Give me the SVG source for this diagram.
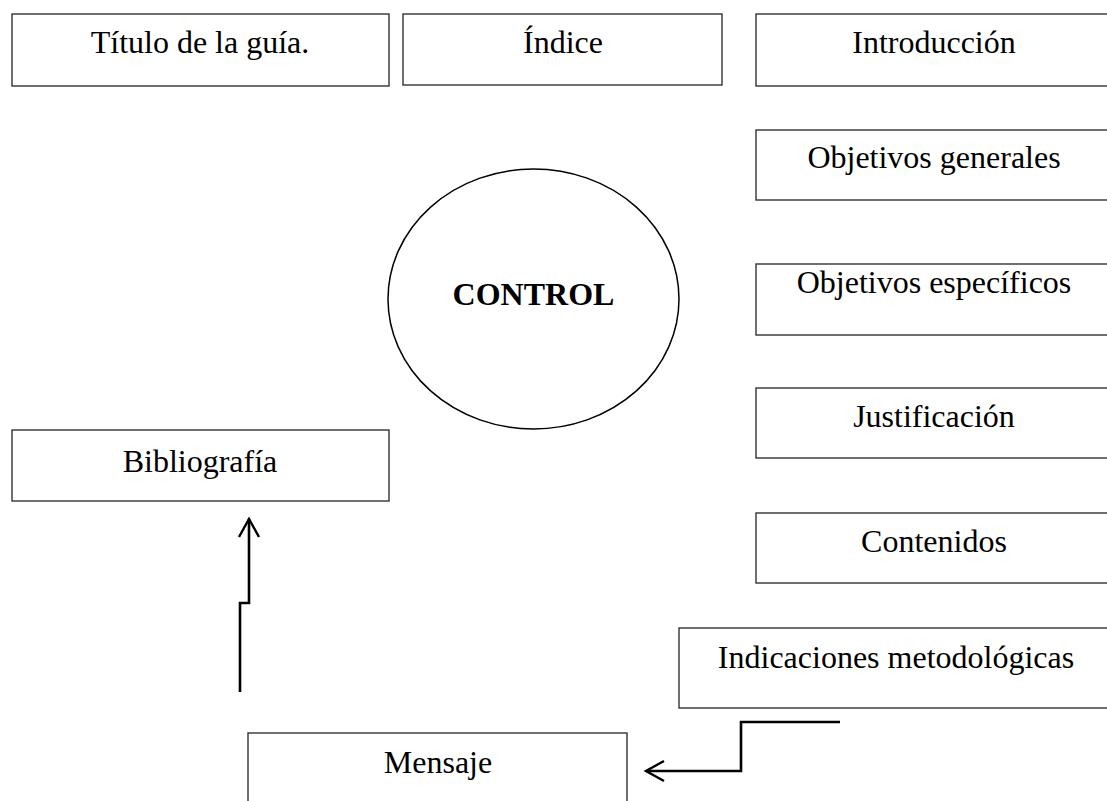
<svg xmlns="http://www.w3.org/2000/svg" width="1107" height="801" viewBox="0 0 1107 801">
<style>
.box{fill:#fff;stroke:#333;stroke-width:1.4}
.t{font-family:"Liberation Serif","Times New Roman",serif;font-size:32px;fill:#000;text-anchor:middle}
.b{font-weight:bold}
.conn{fill:none;stroke:#000;stroke-width:2.6}
</style>
<defs>
<marker id="open" markerUnits="userSpaceOnUse" markerWidth="30" markerHeight="30" refX="20" refY="12" orient="auto" overflow="visible">
<path d="M2,2 L20,12 L2,22" fill="none" stroke="#000" stroke-width="2.4"/>
</marker>
</defs>
<rect width="1107" height="801" fill="#fff"/>
<g id="titulo"><rect class="box" x="12" y="14" width="377" height="72"/><text class="t" x="200" y="53">Título de la guía.</text></g>
<g id="indice"><rect class="box" x="403" y="14" width="319" height="71"/><text class="t" x="563" y="53">Índice</text></g>
<g id="introduccion"><rect class="box" x="756" y="14" width="357" height="72"/><text class="t" x="934" y="53">Introducción</text></g>
<g id="obj-generales"><rect class="box" x="756" y="130" width="357" height="70"/><text class="t" x="934" y="168">Objetivos generales</text></g>
<g id="obj-especificos"><rect class="box" x="756" y="264" width="357" height="71"/><text class="t" x="934" y="293">Objetivos específicos</text></g>
<g id="justificacion"><rect class="box" x="756" y="388" width="357" height="70"/><text class="t" x="934" y="427">Justificación</text></g>
<g id="contenidos"><rect class="box" x="756" y="513" width="357" height="70"/><text class="t" x="934" y="552">Contenidos</text></g>
<g id="indicaciones"><rect class="box" x="679" y="628" width="434" height="80"/><text class="t" x="896" y="668">Indicaciones metodológicas</text></g>
<g id="bibliografia"><rect class="box" x="12" y="430" width="377" height="71"/><text class="t" x="200" y="472">Bibliografía</text></g>
<g id="mensaje"><rect class="box" x="248" y="733" width="379" height="90"/><text class="t" x="438" y="773">Mensaje</text></g>
<g id="control"><ellipse cx="533.5" cy="299" rx="145.5" ry="130" fill="#fff" stroke="#000" stroke-width="1.5"/><text class="t b" x="533.5" y="305">CONTROL</text></g>
<g id="connectors">
<path class="conn" d="M240,692 V603 H249 V519" marker-end="url(#open)"/>
<path class="conn" d="M840,722 H741 V771 H646" marker-end="url(#open)"/>
</g>
</svg>
